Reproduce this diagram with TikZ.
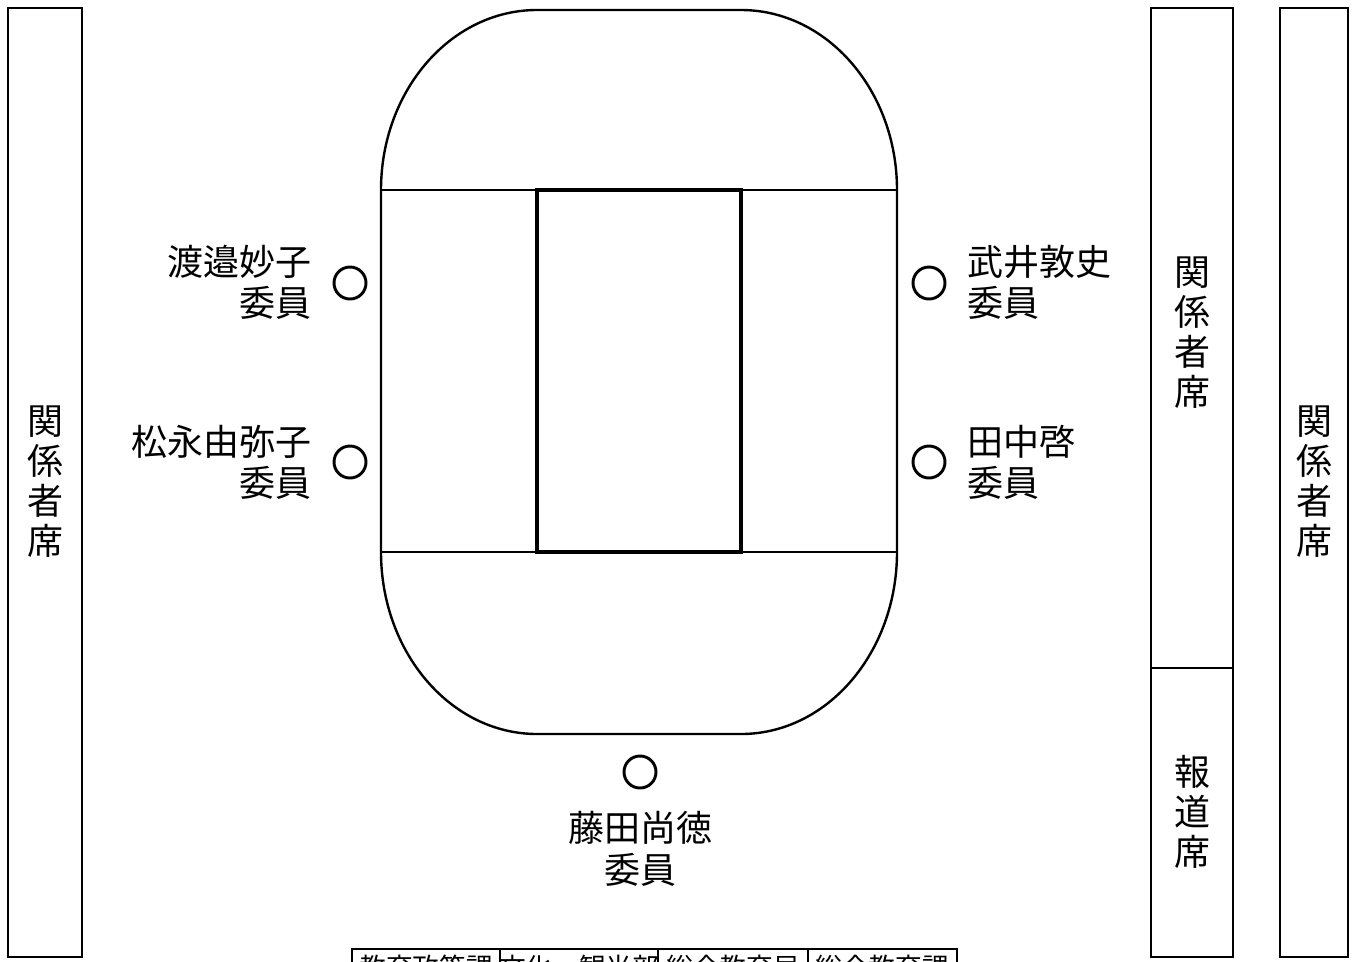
\documentclass[tikz,border=0pt]{standalone}
\usepackage{fontspec}
\newfontfamily\jp{Noto Sans CJK JP}
\begin{document}
\begin{tikzpicture}[x=0.75pt,y=-0.75pt,
  seatbox/.style={draw=black,line width=1.4pt},
  vlabel/.style={font=\jp\fontsize{27pt}{30pt}\selectfont,align=center,inner sep=0pt},
  memb/.style={font=\jp\fontsize{27pt}{31pt}\selectfont,inner sep=0pt},
  seat/.style={circle,draw=black,line width=2.2pt,minimum size=24pt,inner sep=0pt},
  tabtext/.style={font=\jp\fontsize{20pt}{24pt}\selectfont,inner sep=0pt,anchor=base}]
\useasboundingbox (0,0) rectangle (1357,961);
\clip (0,0) rectangle (1357,961);
% side seating boxes
\draw[seatbox] (8,8) rectangle (82,957);
\node[vlabel] (lseat) at (45,482) {関\\係\\者\\席};
\draw[seatbox] (1151,8) rectangle (1233,957);
\draw[seatbox] (1151,668) -- (1233,668);
\node[vlabel] (rseat1) at (1192,333) {関\\係\\者\\席};
\node[vlabel] (press) at (1192,812) {報\\道\\席};
\draw[seatbox] (1280,8) rectangle (1348,957);
\node[vlabel] (rseat2) at (1314,482) {関\\係\\者\\席};
% table
\draw[line width=1pt] (381,190) -- (897,190);
\draw[line width=1pt] (381,552) -- (897,552);
\draw[line width=1.8pt] (381,190) .. controls (381,90.6) and (450.8,10) .. (537,10)
  -- (741,10) .. controls (827.2,10) and (897,90.6) .. (897,190)
  -- (897,552) .. controls (897,652.5) and (827.2,734) .. (741,734)
  -- (537,734) .. controls (450.8,734) and (381,652.5) .. (381,552) -- cycle;
\draw[line width=2.4pt] (537,190) rectangle (741,552);
% seats
\node[seat] (s1) at (350,283) {};
\node[seat] (s2) at (350,462) {};
\node[seat] (s3) at (929,283) {};
\node[seat] (s4) at (929,462) {};
\node[seat] (s5) at (640,772) {};
\node[memb,anchor=east,align=right] (n1) at (312,282) {渡邉妙子\\委員};
\node[memb,anchor=east,align=right] (n2) at (312,462) {松永由弥子\\委員};
\node[memb,anchor=west,align=left] (n3) at (967,282) {武井敦史\\委員};
\node[memb,anchor=west,align=left] (n4) at (967,462) {田中啓\\委員};
\node[memb,align=center] (n5) at (640,849) {藤田尚徳\\委員};
% bottom table (cut off)
\draw[line width=1.8pt] (352,1000) -- (352,949) -- (957,949) -- (957,1000);
\draw[line width=1.8pt] (500,949) -- (500,1000);
\draw[line width=1.8pt] (658,949) -- (658,1000);
\draw[line width=1.8pt] (808,949) -- (808,1000);
\node[tabtext] (t1) at (426,977) {教育政策課};
\node[tabtext] (t2) at (579,977) {文化・観光部};
\node[tabtext] (t3) at (733,977) {総合教育局};
\node[tabtext] (t4) at (882,977) {総合教育課};
\end{tikzpicture}
\end{document}
